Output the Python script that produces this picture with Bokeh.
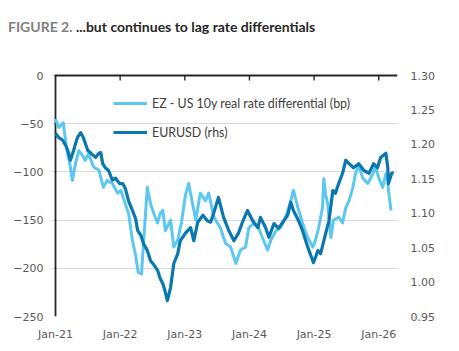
from bokeh.plotting import figure
from bokeh.layouts import column
from bokeh.models import (Range1d, LinearAxis, FixedTicker, Legend, LegendItem, Div,
                          NumeralTickFormatter)
from bokeh.embed import file_html
from bokeh.resources import INLINE

# ---- data (decimal years, values) ----
rate_t = [2021.00, 2021.05, 2021.12, 2021.17, 2021.23, 2021.26, 2021.31, 2021.36, 2021.42, 2021.46,
          2021.51, 2021.59, 2021.67, 2021.74, 2021.80, 2021.88, 2021.96, 2022.01, 2022.05, 2022.13,
          2022.19, 2022.24, 2022.28, 2022.33, 2022.42, 2022.47, 2022.53, 2022.58, 2022.62, 2022.66,
          2022.70, 2022.78, 2022.83, 2022.89, 2022.95, 2023.01, 2023.06, 2023.12, 2023.17, 2023.24,
          2023.32, 2023.37, 2023.45, 2023.55, 2023.63, 2023.71, 2023.79, 2023.86, 2023.94, 2023.99,
          2024.07, 2024.14, 2024.20, 2024.28, 2024.33, 2024.41, 2024.48, 2024.56, 2024.64, 2024.68,
          2024.75, 2024.82, 2024.90, 2024.98, 2025.02, 2025.07, 2025.13, 2025.15, 2025.18, 2025.21,
          2025.26, 2025.30, 2025.38, 2025.44, 2025.49, 2025.54, 2025.60, 2025.64, 2025.69, 2025.75,
          2025.83, 2025.91, 2025.95, 2026.00, 2026.06, 2026.11, 2026.14, 2026.15, 2026.19]
rate_v = [-45, -54, -49, -75, -95, -109, -91, -78, -83, -88,
          -81, -95, -98, -116, -109, -112, -122, -119, -127, -143,
          -171, -187, -204, -206, -116, -133, -145, -153, -143, -140,
          -161, -150, -178, -171, -152, -124, -112, -133, -150, -122,
          -130, -122, -147, -158, -174, -178, -195, -181, -178, -158,
          -153, -158, -168, -181, -171, -161, -158, -147, -130, -119,
          -137, -153, -168, -178, -171, -158, -137, -107, -124, -133,
          -168, -150, -147, -153, -137, -130, -116, -102, -93, -106,
          -112, -102, -95, -106, -116, -102, -109, -119, -140]

fx_t = [2021.00, 2021.05, 2021.11, 2021.16, 2021.19, 2021.23, 2021.28, 2021.31, 2021.34, 2021.39,
        2021.43, 2021.50, 2021.55, 2021.62, 2021.67, 2021.70, 2021.73, 2021.77, 2021.82, 2021.88,
        2021.93, 2021.99, 2022.04, 2022.08, 2022.13, 2022.19, 2022.24, 2022.27, 2022.32, 2022.36,
        2022.42, 2022.47, 2022.53, 2022.58, 2022.62, 2022.66, 2022.70, 2022.73, 2022.78, 2022.83,
        2022.89, 2022.93, 2023.01, 2023.09, 2023.14, 2023.20, 2023.28, 2023.35, 2023.40, 2023.46,
        2023.52, 2023.60, 2023.68, 2023.76, 2023.83, 2023.90, 2023.97, 2024.05, 2024.13, 2024.17,
        2024.25, 2024.30, 2024.38, 2024.45, 2024.53, 2024.59, 2024.64, 2024.68, 2024.76, 2024.82,
        2024.87, 2024.92, 2024.96, 2024.99, 2025.06, 2025.10, 2025.18, 2025.23, 2025.29, 2025.33,
        2025.38, 2025.44, 2025.49, 2025.54, 2025.61, 2025.69, 2025.77, 2025.85, 2025.92, 2025.98,
        2026.03, 2026.11, 2026.14, 2026.15, 2026.20, 2026.23]
fx_v = [1.216, 1.210, 1.206, 1.198, 1.191, 1.177, 1.191, 1.201, 1.210, 1.217,
        1.210, 1.191, 1.187, 1.181, 1.187, 1.188, 1.172, 1.166, 1.162, 1.148,
        1.151, 1.143, 1.143, 1.136, 1.118, 1.104, 1.092, 1.075, 1.068, 1.056,
        1.046, 1.031, 1.024, 1.017, 1.005, 0.998, 0.985, 0.973, 0.992, 1.027,
        1.041, 1.060, 1.071, 1.079, 1.060, 1.087, 1.097, 1.089, 1.087, 1.104,
        1.123, 1.094, 1.075, 1.060, 1.071, 1.089, 1.104, 1.089, 1.079, 1.094,
        1.079, 1.065, 1.085, 1.078, 1.089, 1.097, 1.116, 1.104, 1.089, 1.075,
        1.060, 1.046, 1.036, 1.028, 1.046, 1.041, 1.071, 1.089, 1.133, 1.129,
        1.143, 1.158, 1.177, 1.172, 1.166, 1.172, 1.162, 1.158, 1.172, 1.166,
        1.181, 1.187, 1.166, 1.143, 1.158, 1.159]

year_ticks = [2021, 2022, 2023, 2024, 2025, 2026]
year_labels = ["Jan-21", "Jan-22", "Jan-23", "Jan-24", "Jan-25", "Jan-26"]
left_ticks = [-250, -200, -150, -100, -50, 0]
right_ticks = [0.95, 1.00, 1.05, 1.10, 1.15, 1.20, 1.25, 1.30]

series_names = ["EZ - US 10y real rate differential (bp)", "EURUSD (rhs)"]
title_prefix = "FIGURE 2."
title_text = "...but continues to lag rate differentials"

LIGHT = "#5CC8F0"
DARK = "#0A77AE"
RULE = "#262626"
TICK_FONT = "DejaVu Sans"
TEXT_FONT = "Lato"

HEAD_H = 45
PAD = 4                               # px of frame kept beyond the rules
X0, X1 = 2021.0, 2026.29
Y0, Y1 = -250, 0
R0, R1 = 0.95, 1.30
PX_X = (X1 - X0) / 342                # data units per px
PX_Y = (Y1 - Y0) / 241
PX_R = (R1 - R0) / 241

head = Div(text=(f'<span style="color:#808080">{title_prefix}</span> '
                 f'<span style="color:#262626">{title_text}</span>'),
           width=459, height=HEAD_H, margin=0,
           styles={"font-family": "Lato", "font-weight": "bold", "font-size": "14px",
                   "line-height": "16px", "padding-left": "8px", "padding-top": "19px",
                   "box-sizing": "border-box", "white-space": "nowrap"})

p = figure(width=459, height=351 - HEAD_H, output_backend="svg", toolbar_location=None,
           x_range=Range1d(X0 - PAD * PX_X, X1), y_range=Range1d(Y0, Y1 + PAD * PX_Y),
           min_border_left=55 - PAD, min_border_right=62, min_border_top=75 - PAD - HEAD_H,
           min_border_bottom=35, margin=0)
p.outline_line_color = None
p.extra_y_ranges = {"fx": Range1d(R0, R1 + PAD * PX_R)}

# grid
p.xgrid.visible = False
p.ygrid.ticker = FixedTicker(ticks=left_ticks)
p.ygrid.grid_line_color = "#d9d9d9"
p.ygrid.grid_line_width = 1

# left axis (labels)
la = p.yaxis[0]
la.ticker = FixedTicker(ticks=left_ticks)
la.axis_line_color = None
la.major_tick_out = 0
la.major_tick_in = 0
la.minor_tick_out = 0
la.minor_tick_in = 0
la.major_label_standoff = 12 - PAD
la.major_label_text_font = TICK_FONT
la.major_label_text_font_size = "11px"
la.major_label_text_color = "#595959"

# bottom axis (labels only)
ba = p.xaxis[0]
ba.ticker = FixedTicker(ticks=year_ticks)
ba.major_label_overrides = {float(t): l for t, l in zip(year_ticks, year_labels)}
ba.axis_line_color = None
ba.major_tick_out = 0
ba.major_tick_in = 0
ba.minor_tick_out = 0
ba.minor_tick_in = 0
ba.major_label_standoff = 11
ba.major_label_text_font = TICK_FONT
ba.major_label_text_font_size = "11px"
ba.major_label_text_color = "#595959"

# right axis
ra = LinearAxis(y_range_name="fx")
ra.ticker = FixedTicker(ticks=right_ticks)
ra.formatter = NumeralTickFormatter(format="0.00")
ra.axis_line_color = None
ra.major_tick_out = 0
ra.major_tick_in = 0
ra.minor_tick_out = 0
ra.minor_tick_in = 0
ra.major_label_standoff = 13
ra.major_label_text_font = TICK_FONT
ra.major_label_text_font_size = "11px"
ra.major_label_text_color = "#595959"
p.add_layout(ra, "right")

# axis rules (left and top) as thin filled bars, now inside the frame,
# with small inward year ticks hanging from the top rule
p.quad(left=[X0 - 0.9 * PX_X], right=[X0 + 0.9 * PX_X], bottom=[Y0], top=[Y1],
       fill_color=RULE, line_color=None)
p.quad(left=[X0 - 0.9 * PX_X], right=[X1], bottom=[Y1 - 0.9 * PX_Y], top=[Y1 + 0.9 * PX_Y],
       fill_color=RULE, line_color=None)
tick_x = year_ticks[1:]
p.quad(left=[t - 0.7 * PX_X for t in tick_x], right=[t + 0.7 * PX_X for t in tick_x],
       bottom=[Y1 - 5 * PX_Y] * len(tick_x), top=[Y1] * len(tick_x),
       fill_color=RULE, line_color=None)

r1 = p.line(rate_t, rate_v, line_color=LIGHT, line_width=3, line_join="round")
r2 = p.line(fx_t, fx_v, line_color=DARK, line_width=3.2, line_join="round", y_range_name="fx")

legend = Legend(items=[LegendItem(label=series_names[0], renderers=[r1]),
                       LegendItem(label=series_names[1], renderers=[r2])],
                location=(58 + PAD, 176), orientation="vertical")
legend.border_line_color = None
legend.background_fill_alpha = 0
legend.padding = 0
legend.margin = 0
legend.spacing = 13
legend.glyph_width = 34
legend.glyph_height = 16
legend.label_height = 16
legend.label_standoff = 5
legend.label_text_font = TEXT_FONT
legend.label_text_font_size = "12.4px"
legend.label_text_color = "#404040"
p.add_layout(legend, "center")

layout = column(head, p, spacing=0, margin=0)
open("out.html", "w").write(file_html(layout, INLINE))
